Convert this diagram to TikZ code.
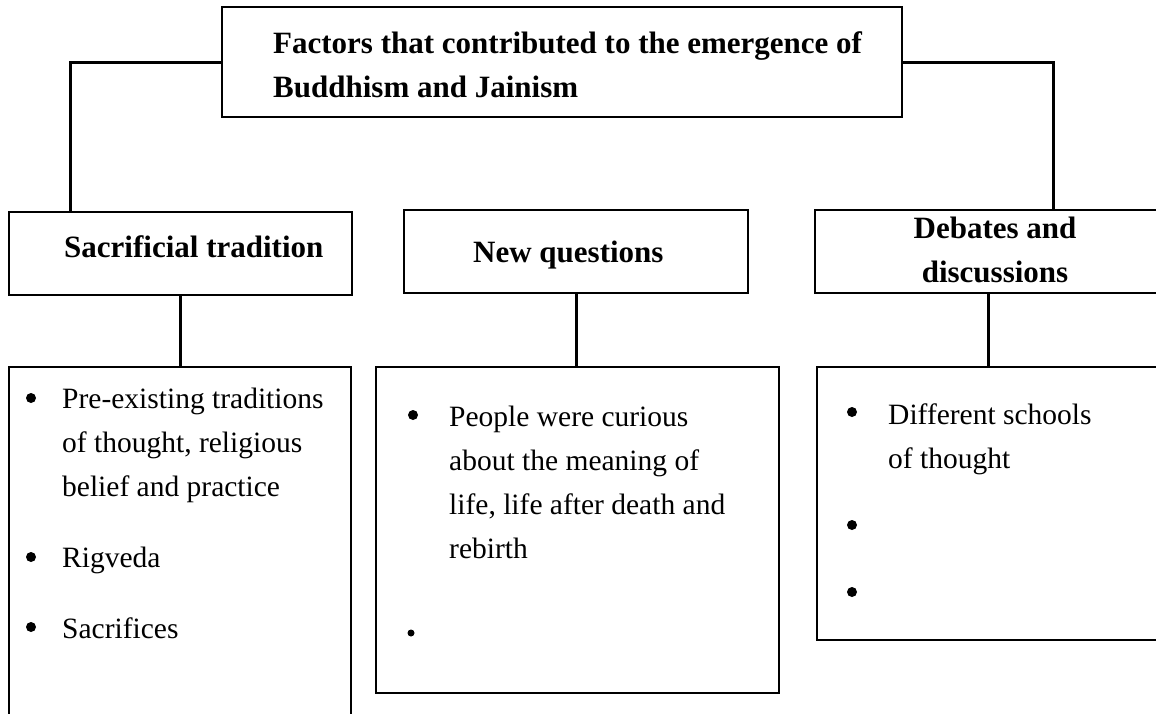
\documentclass[tikz,border=0pt]{standalone}
\usepackage{fontspec}
\setmainfont{Liberation Serif}
\begin{document}
\begin{tikzpicture}[x=1pt,y=-1pt,
  box/.style={draw, line width=2.8pt, inner sep=0pt, rectangle},
  conn/.style={line width=3pt},
  hd/.style={font=\fontsize{31}{44}\selectfont\bfseries, inner sep=0pt, anchor=base west},
  tx/.style={font=\fontsize{29.5}{44}\selectfont, inner sep=0pt, anchor=base west},
  bul/.style={circle, fill, inner sep=0pt, minimum size=10pt},
  ]
\useasboundingbox (0,0) rectangle (1156,713);
\clip (0,0) rectangle (1156,713);

% boxes
\node[box, minimum width=680pt, minimum height=110pt] (top) at (562,62) {};
\node[box, minimum width=343pt, minimum height=83pt] (sac) at (180.5,253.5) {};
\node[box, minimum width=344pt, minimum height=83pt] (nq) at (576,251.5) {};
\node[box, minimum width=360pt, minimum height=83pt] (deb) at (995,251.5) {};
\node[box, minimum width=342pt, minimum height=373pt] (lbox) at (180,553.5) {};
\node[box, minimum width=403pt, minimum height=326pt] (mbox) at (577.5,530) {};
\node[box, minimum width=358pt, minimum height=273pt] (rbox) at (996,503.5) {};

% header texts
\node[hd] (toptext) at (273,53) {\vtop{\hbox{Factors that contributed to the emergence of}\hbox{Buddhism and Jainism}}};
\node[hd] (sactext) at (64,257) {Sacrificial tradition};
\node[hd] (nqtext) at (473,262) {New questions};
\node[hd, anchor=base] (debtext) at (995,238) {\vtop{\halign{\hfil#\hfil\cr Debates and\cr discussions\cr}}};

% connectors
\coordinate (lj) at (70,63);
\coordinate (rj) at (1053,63);
\draw[conn] (top.west) -| (lj |- sac.north);
\draw[conn] (top.east) -| (rj |- deb.north);
\draw[conn] (sac.south) -- (sac.south |- lbox.north);
\draw[conn] (nq.south) -- (nq.south |- mbox.north);
\draw[conn] ([xshift=-7pt]deb.south) -- ([xshift=-7pt]deb.south |- rbox.north);

% left column
\node[bul] (lb1) at (31,398) {};
\node[bul] (lb2) at (31,557) {};
\node[bul] (lb3) at (31,627) {};
\node[tx] (lt1) at (62,408) {\vtop{\hbox{Pre-existing traditions}\hbox{of thought, religious}\hbox{belief and practice}}};
\node[tx] (lt2) at (62,567) {Rigveda};
\node[tx] (lt3) at (62,638) {Sacrifices};

% middle column
\node[bul] (mb1) at (413,415) {};
\node[bul, minimum size=7pt] (mb2) at (411,633) {};
\node[tx] (mt1) at (449,426) {\vtop{\hbox{People were curious}\hbox{about the meaning of}\hbox{life, life after death and}\hbox{rebirth}}};

% right column
\node[bul] (rb1) at (852,412) {};
\node[bul] (rb2) at (852,525) {};
\node[bul] (rb3) at (852,592) {};
\node[tx] (rt1) at (888,424) {\vtop{\hbox{Different schools}\hbox{of thought}}};
\end{tikzpicture}
\end{document}
